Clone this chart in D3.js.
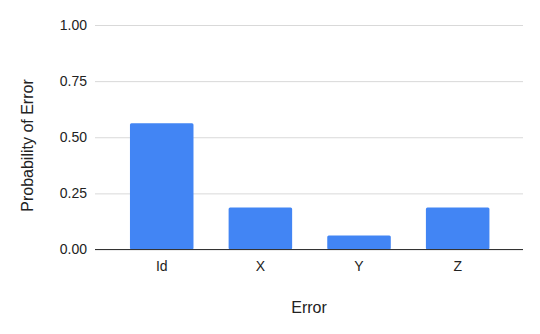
<!DOCTYPE html>
<html>
<head>
<meta charset="utf-8">
<script src="https://cdn.jsdelivr.net/npm/d3@7"></script>
<style>
  body { margin: 0; background: #fff; }
  text { font-family: Arial, "Liberation Sans", sans-serif; fill: #222; }
</style>
</head>
<body>
<div class="chart"></div>
<script>
var categories = ['Id', 'X', 'Y', 'Z'];
var values = [0.5625, 0.1875, 0.0625, 0.1875];
var yTicks = [0, 0.25, 0.5, 0.75, 1];

var width = 540;
var height = 334;
var svg = d3.select('.chart').append('svg').attr('width', width).attr('height', height);

// plot area edges (window.top is taken, so keep these in one object)
var plot = { left: 95, right: 523, top: 25, bottom: 249.5 };

var x = d3.scaleBand().domain(categories).range([112.4, 507]).paddingInner(0.356).paddingOuter(0.178);
var y = d3.scaleLinear().domain([0, 1]).range([plot.bottom, plot.top]);

// gridlines + tick labels
var yAxis = d3.axisLeft(y).tickValues(yTicks).tickSize(-(plot.right - plot.left)).tickFormat(d3.format('.2f'));
var gy = svg.append('g').attr('transform', 'translate(' + plot.left + ',0)').call(yAxis);
gy.select('.domain').remove();
gy.selectAll('.tick line').attr('stroke', '#d9d9d9').attr('stroke-width', 1);
gy.selectAll('.tick text').attr('x', -8).attr('font-size', 14).style('fill', '#222');

// bars
svg.selectAll('rect.bar')
  .data(values).enter()
  .append('rect')
  .attr('class', 'bar')
  .attr('x', function(d, i){ return x(categories[i]); })
  .attr('y', function(d){ return y(d); })
  .attr('width', x.bandwidth())
  .attr('height', function(d){ return y(0) - y(d); })
  .attr('rx', 1.5)
  .attr('fill', '#4285f4');

// category labels + baseline
var xAxis = d3.axisBottom(x).tickSize(0).tickPadding(12);
var gx = svg.append('g').attr('transform', 'translate(0,' + plot.bottom + ')').call(xAxis);
gx.select('.domain').remove();
gx.selectAll('.tick text').attr('font-size', 14).style('fill', '#222');
svg.append('line')
  .attr('x1', plot.left).attr('x2', plot.right)
  .attr('y1', y(0)).attr('y2', y(0))
  .attr('stroke', '#333').attr('stroke-width', 1);

// titles
svg.append('text')
  .attr('x', 309).attr('y', 313)
  .attr('text-anchor', 'middle')
  .attr('font-size', 16)
  .text('Error');

svg.append('text')
  .attr('transform', 'translate(33,145.5) rotate(-90)')
  .attr('text-anchor', 'middle')
  .attr('font-size', 16)
  .text('Probability of Error');
</script>
</body>
</html>
